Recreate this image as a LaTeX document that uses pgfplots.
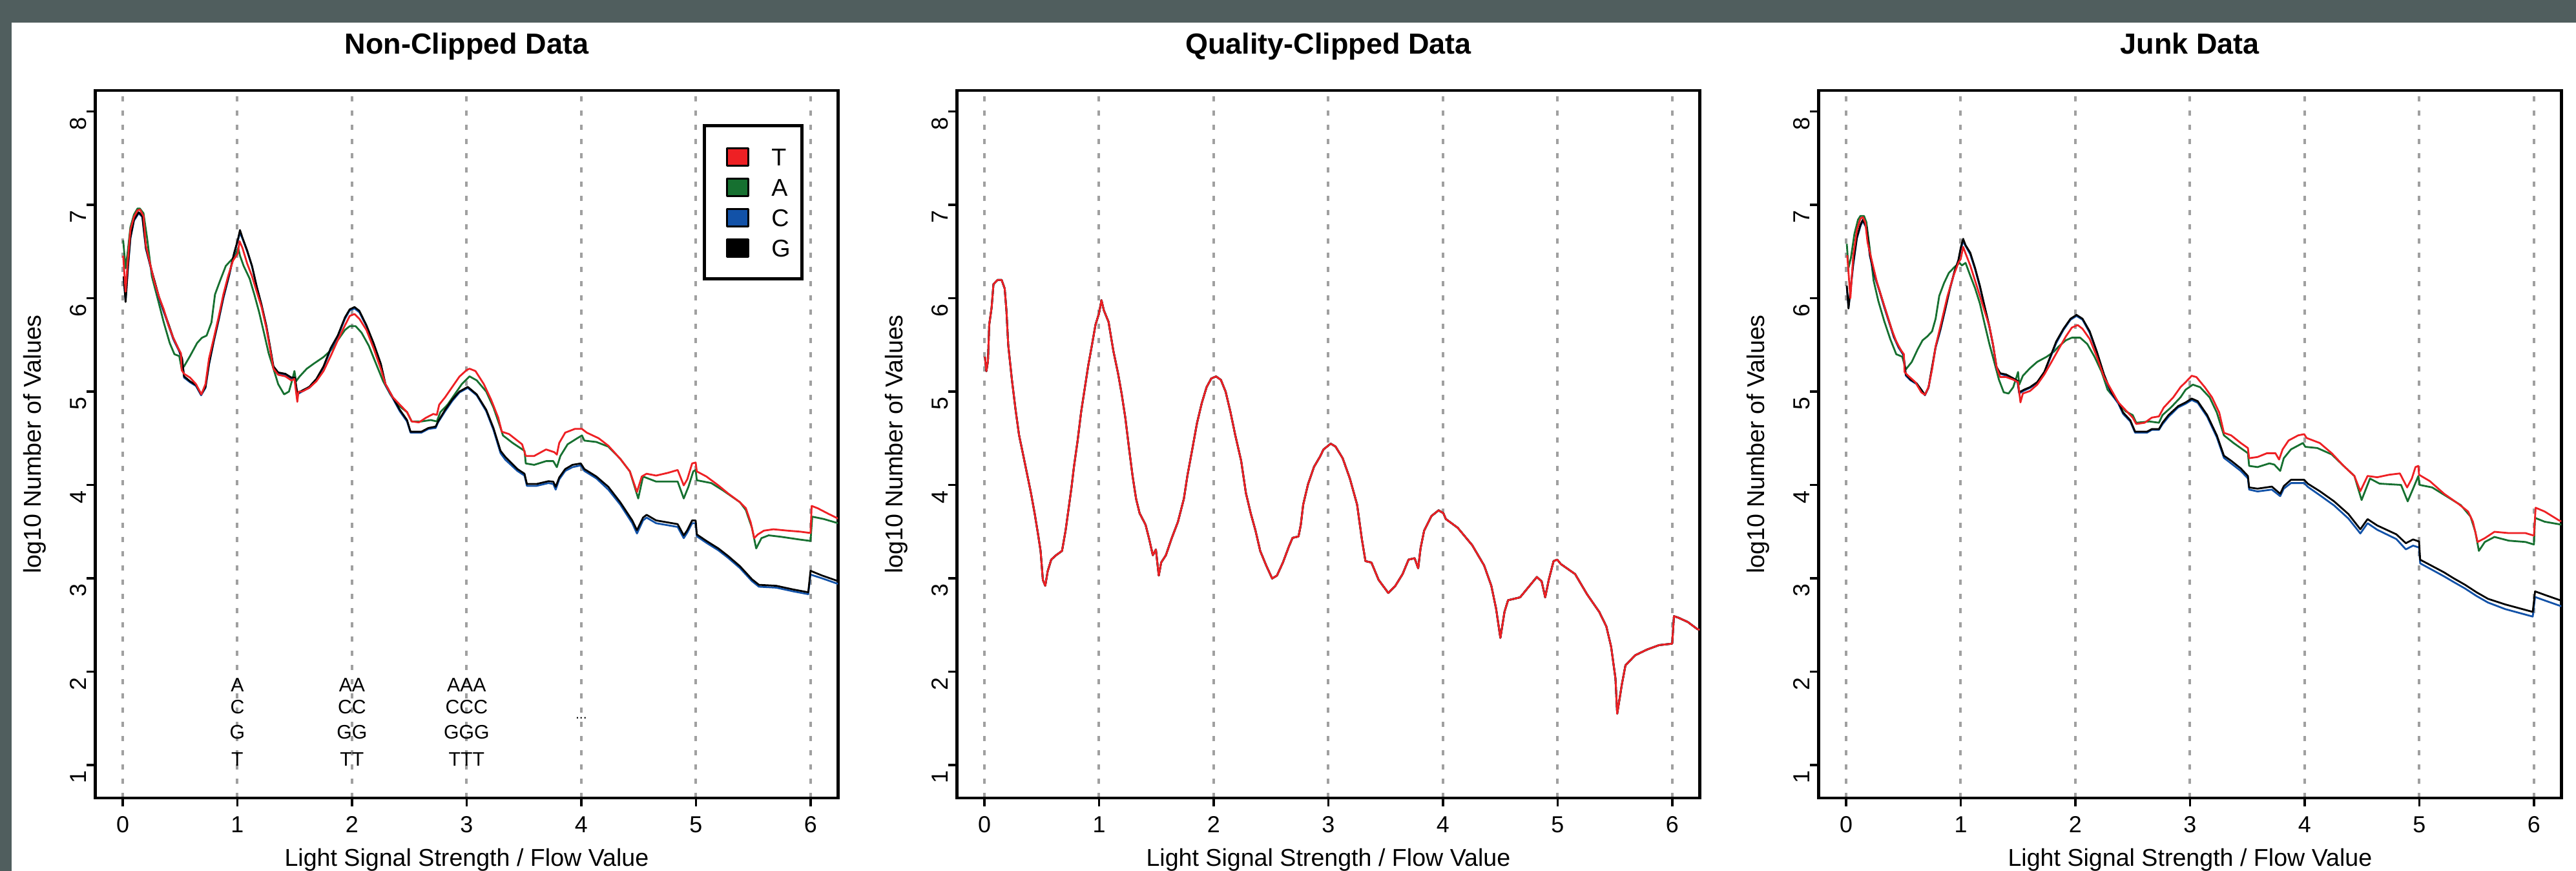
\documentclass[border=0pt]{standalone}
\usepackage{fontspec}
\setmainfont{Liberation Sans}
\usepackage{pgfplots}
\usepackage{pgfplotstable}
\pgfplotsset{compat=1.18}

\definecolor{cT}{RGB}{238,32,36}
\definecolor{cA}{RGB}{22,112,48}
\definecolor{cC}{RGB}{18,82,168}
\definecolor{cG}{RGB}{0,0,0}
\definecolor{gridgray}{RGB}{160,160,160}
\definecolor{bandgray}{RGB}{80,94,94}

\newcommand\ticksize{\fontsize{10.2}{12}\selectfont}
\newcommand\labsize{\fontsize{10.7}{12.8}\selectfont}
\newcommand\titlesize{\fontsize{12.8}{15}\selectfont}
\newcommand\annsize{\fontsize{8.6}{10}\selectfont}

% ---------- Non-clipped reads ----------
\pgfplotstableread{
x y
0.004 6.455
0.025 6.07
0.042 6.37
0.067 6.73
0.098 6.87
0.129 6.94
0.150 6.95
0.181 6.88
0.202 6.565
0.233 6.40
0.275 6.18
0.316 6.015
0.358 5.88
0.399 5.71
0.441 5.575
0.483 5.465
0.508 5.41
0.514 5.23
0.535 5.19
0.587 5.15
0.639 5.08
0.686 4.97
0.722 5.08
0.753 5.355
0.795 5.575
0.836 5.795
0.878 6.04
0.919 6.235
0.961 6.40
1.003 6.48
1.019 6.61
1.044 6.54
1.086 6.37
1.128 6.235
1.169 6.07
1.211 5.905
1.252 5.685
1.284 5.465
1.315 5.245
1.356 5.18
1.419 5.163
1.471 5.12
1.498 5.135
1.523 4.89
1.533 5.00
1.564 5.00
1.627 5.04
1.689 5.11
1.752 5.22
1.814 5.38
1.876 5.55
1.939 5.71
1.980 5.81
2.022 5.83
2.064 5.78
2.126 5.66
2.188 5.465
2.251 5.245
2.292 5.08
2.355 4.94
2.417 4.86
2.480 4.78
2.521 4.68
2.584 4.67
2.646 4.72
2.709 4.76
2.740 4.75
2.761 4.86
2.813 4.94
2.875 5.05
2.937 5.16
3.000 5.23
3.025 5.245
3.077 5.22
3.150 5.08
3.213 4.915
3.276 4.72
3.307 4.57
3.370 4.545
3.484 4.435
3.516 4.31
3.589 4.31
3.693 4.38
3.766 4.35
3.787 4.325
3.808 4.45
3.860 4.56
3.944 4.60
4.006 4.60
4.048 4.56
4.152 4.50
4.236 4.42
4.340 4.28
4.424 4.145
4.486 3.925
4.528 4.09
4.570 4.12
4.653 4.10
4.758 4.13
4.841 4.16
4.894 3.995
4.925 4.06
4.967 4.23
4.998 4.24
5.008 4.145
5.092 4.09
5.196 3.995
5.280 3.91
5.384 3.815
5.436 3.75
5.478 3.60
5.509 3.43
5.541 3.47
5.593 3.51
5.676 3.525
5.802 3.51
5.906 3.50
6.000 3.485
6.010 3.775
6.063 3.75
6.157 3.69
6.240 3.64
}\nclT

\pgfplotstableread{
x y
0.004 6.62
0.025 6.32
0.042 6.48
0.067 6.76
0.098 6.895
0.129 6.96
0.150 6.96
0.181 6.91
0.212 6.65
0.254 6.235
0.306 5.99
0.358 5.74
0.410 5.52
0.451 5.40
0.493 5.38
0.514 5.245
0.535 5.27
0.587 5.38
0.649 5.52
0.690 5.575
0.732 5.60
0.774 5.74
0.805 6.04
0.847 6.18
0.899 6.345
0.940 6.40
0.982 6.455
1.007 6.54
1.023 6.455
1.055 6.345
1.107 6.21
1.148 6.04
1.190 5.85
1.232 5.63
1.273 5.41
1.315 5.245
1.356 5.08
1.408 4.97
1.450 5.00
1.481 5.135
1.498 5.22
1.512 5.11
1.544 5.163
1.606 5.245
1.668 5.30
1.752 5.37
1.814 5.44
1.876 5.55
1.939 5.66
1.980 5.70
2.032 5.70
2.084 5.63
2.147 5.49
2.209 5.30
2.272 5.11
2.334 4.97
2.397 4.86
2.480 4.78
2.521 4.68
2.605 4.68
2.688 4.695
2.740 4.68
2.771 4.78
2.834 4.86
2.896 4.97
2.958 5.08
3.025 5.163
3.088 5.12
3.171 5.00
3.234 4.83
3.296 4.61
3.317 4.53
3.401 4.45
3.505 4.365
3.516 4.23
3.589 4.215
3.693 4.255
3.756 4.255
3.787 4.19
3.818 4.31
3.881 4.435
3.965 4.50
4.006 4.53
4.027 4.475
4.132 4.46
4.236 4.41
4.340 4.28
4.424 4.145
4.497 3.855
4.539 4.09
4.653 4.036
4.841 4.036
4.894 3.855
4.935 3.98
4.977 4.145
4.998 4.16
5.008 4.05
5.134 4.02
5.238 3.94
5.384 3.815
5.436 3.73
5.489 3.54
5.526 3.32
5.572 3.43
5.635 3.46
5.739 3.445
5.906 3.415
6.000 3.40
6.015 3.66
6.115 3.635
6.240 3.59
}\nclA

\pgfplotstableread{
x y
0.008 6.235
0.025 5.96
0.046 6.345
0.067 6.65
0.098 6.84
0.139 6.92
0.171 6.88
0.202 6.54
0.254 6.29
0.316 6.015
0.379 5.795
0.441 5.575
0.493 5.44
0.518 5.355
0.535 5.163
0.587 5.11
0.639 5.07
0.684 4.97
0.722 5.05
0.753 5.30
0.795 5.55
0.836 5.77
0.878 6.015
0.930 6.26
0.971 6.48
1.003 6.62
1.023 6.73
1.044 6.65
1.086 6.51
1.128 6.345
1.169 6.125
1.211 5.93
1.252 5.71
1.284 5.49
1.315 5.27
1.356 5.205
1.419 5.19
1.471 5.15
1.502 5.15
1.523 4.98
1.564 5.01
1.627 5.05
1.689 5.135
1.752 5.27
1.814 5.465
1.876 5.60
1.939 5.795
1.980 5.88
2.022 5.905
2.064 5.865
2.126 5.71
2.188 5.52
2.251 5.30
2.292 5.08
2.355 4.94
2.417 4.805
2.480 4.695
2.511 4.57
2.605 4.57
2.667 4.61
2.730 4.625
2.751 4.68
2.813 4.805
2.875 4.915
2.937 5.00
3.010 5.05
3.088 4.97
3.171 4.805
3.234 4.61
3.296 4.365
3.338 4.30
3.443 4.17
3.505 4.12
3.526 4.01
3.610 4.01
3.714 4.04
3.756 4.035
3.777 3.98
3.808 4.08
3.860 4.17
3.923 4.215
3.996 4.23
4.027 4.17
4.132 4.09
4.236 3.98
4.340 3.815
4.445 3.62
4.486 3.515
4.539 3.65
4.570 3.68
4.653 3.62
4.841 3.58
4.894 3.46
4.925 3.515
4.967 3.62
4.998 3.62
5.008 3.47
5.092 3.40
5.196 3.32
5.280 3.24
5.384 3.13
5.489 2.99
5.550 2.93
5.700 2.92
5.850 2.88
5.980 2.85
6.000 3.08
6.100 3.03
6.240 2.97
}\nclG

\pgfplotstableread{
x y
0.008 6.22
0.025 5.97
0.046 6.33
0.067 6.64
0.098 6.83
0.139 6.91
0.171 6.87
0.202 6.53
0.254 6.28
0.316 6.00
0.379 5.78
0.441 5.56
0.493 5.43
0.518 5.34
0.535 5.15
0.587 5.10
0.639 5.06
0.684 4.96
0.722 5.04
0.753 5.29
0.795 5.54
0.836 5.76
0.878 6.00
0.930 6.25
0.971 6.47
1.003 6.61
1.023 6.70
1.044 6.64
1.086 6.50
1.128 6.34
1.169 6.12
1.211 5.92
1.252 5.70
1.284 5.48
1.315 5.26
1.356 5.19
1.419 5.18
1.471 5.14
1.502 5.14
1.523 4.97
1.564 5.00
1.627 5.04
1.689 5.12
1.752 5.26
1.814 5.45
1.876 5.59
1.939 5.78
1.980 5.87
2.022 5.89
2.064 5.85
2.126 5.70
2.188 5.51
2.251 5.29
2.292 5.07
2.355 4.93
2.417 4.79
2.480 4.68
2.511 4.56
2.605 4.56
2.667 4.60
2.730 4.61
2.751 4.67
2.813 4.79
2.875 4.90
2.937 4.99
3.010 5.04
3.088 4.96
3.171 4.79
3.234 4.59
3.296 4.34
3.338 4.27
3.443 4.15
3.505 4.10
3.526 3.99
3.610 3.99
3.714 4.02
3.756 4.01
3.777 3.95
3.808 4.06
3.860 4.15
3.923 4.19
3.996 4.21
4.027 4.15
4.132 4.07
4.236 3.95
4.340 3.79
4.445 3.59
4.486 3.48
4.539 3.62
4.570 3.65
4.653 3.59
4.841 3.55
4.894 3.43
4.925 3.49
4.967 3.59
4.998 3.59
5.008 3.45
5.092 3.38
5.196 3.30
5.280 3.22
5.384 3.11
5.489 2.97
5.550 2.91
5.700 2.90
5.850 2.86
5.980 2.83
6.000 3.04
6.100 3.00
6.240 2.94
}\nclC

% ---------- Quality-clipped reads (all four bases coincide) ----------
\pgfplotstableread{
x y
0.004 5.373
0.017 5.218
0.031 5.327
0.042 5.715
0.063 5.901
0.079 6.15
0.115 6.196
0.150 6.196
0.177 6.103
0.192 5.87
0.208 5.497
0.240 5.125
0.271 4.814
0.302 4.535
0.344 4.287
0.375 4.10
0.406 3.914
0.438 3.697
0.469 3.464
0.490 3.293
0.510 2.983
0.531 2.92
0.552 3.076
0.583 3.20
0.625 3.247
0.677 3.293
0.708 3.51
0.729 3.697
0.760 3.976
0.781 4.193
0.813 4.473
0.844 4.783
0.875 5.032
0.906 5.28
0.938 5.497
0.969 5.715
1.000 5.839
1.021 5.979
1.042 5.87
1.083 5.746
1.125 5.435
1.167 5.187
1.198 4.97
1.229 4.721
1.260 4.41
1.292 4.10
1.323 3.852
1.354 3.697
1.406 3.573
1.438 3.417
1.469 3.247
1.496 3.308
1.521 3.029
1.542 3.169
1.583 3.247
1.635 3.433
1.688 3.604
1.740 3.852
1.771 4.10
1.813 4.38
1.854 4.659
1.896 4.876
1.938 5.047
1.979 5.14
2.021 5.162
2.063 5.125
2.104 5.000
2.146 4.783
2.188 4.535
2.240 4.256
2.281 3.914
2.323 3.697
2.365 3.51
2.406 3.293
2.458 3.138
2.510 2.998
2.552 3.029
2.604 3.169
2.656 3.34
2.688 3.433
2.740 3.448
2.760 3.573
2.781 3.79
2.823 4.007
2.875 4.193
2.927 4.302
2.958 4.38
3.021 4.442
3.063 4.411
3.125 4.287
3.188 4.069
3.251 3.79
3.293 3.417
3.324 3.184
3.376 3.169
3.439 2.983
3.523 2.843
3.585 2.92
3.648 3.045
3.700 3.20
3.753 3.215
3.784 3.107
3.805 3.324
3.836 3.51
3.899 3.666
3.962 3.728
4.004 3.697
4.025 3.635
4.129 3.541
4.255 3.355
4.359 3.138
4.422 2.92
4.464 2.672
4.501 2.362
4.537 2.641
4.568 2.765
4.673 2.796
4.756 2.92
4.819 3.014
4.861 2.967
4.892 2.796
4.923 2.983
4.965 3.184
4.997 3.20
5.028 3.153
5.153 3.045
5.258 2.827
5.363 2.641
5.425 2.486
5.467 2.268
5.505 1.927
5.520 1.55
5.561 1.865
5.592 2.067
5.676 2.175
5.781 2.237
5.885 2.284
6.000 2.30
6.015 2.594
6.052 2.579
6.136 2.532
6.220 2.455
6.240 2.45
}\qcAll

% ---------- Junk reads ----------
\pgfplotstableread{
x y
0.010 6.46
0.0375 6.00
0.0625 6.46
0.094 6.73
0.125 6.854
0.146 6.867
0.167 6.813
0.1875 6.596
0.229 6.378
0.271 6.161
0.3125 5.998
0.354 5.835
0.396 5.672
0.4375 5.536
0.479 5.441
0.504 5.40
0.510 5.21
0.542 5.169
0.604 5.101
0.656 4.992
0.6875 4.965
0.719 5.047
0.750 5.237
0.781 5.482
0.833 5.753
0.885 6.025
0.9375 6.242
0.979 6.378
1.000 6.42
1.021 6.55
1.042 6.48
1.083 6.351
1.125 6.188
1.167 6.025
1.208 5.862
1.250 5.699
1.281 5.509
1.3125 5.264
1.344 5.155
1.396 5.155
1.458 5.128
1.500 5.101
1.521 4.884
1.542 4.979
1.604 5.006
1.667 5.074
1.729 5.183
1.792 5.318
1.854 5.454
1.917 5.59
1.969 5.685
2.021 5.712
2.0625 5.672
2.125 5.563
2.1875 5.373
2.250 5.155
2.3125 5.02
2.375 4.884
2.4375 4.802
2.500 4.721
2.531 4.653
2.604 4.666
2.667 4.721
2.729 4.734
2.771 4.829
2.854 4.938
2.917 5.047
2.962 5.101
3.015 5.169
3.056 5.155
3.129 5.047
3.192 4.938
3.255 4.775
3.296 4.558
3.359 4.531
3.443 4.449
3.505 4.395
3.516 4.286
3.589 4.299
3.672 4.34
3.745 4.34
3.777 4.272
3.808 4.381
3.860 4.476
3.944 4.531
3.996 4.544
4.017 4.503
4.132 4.449
4.236 4.34
4.340 4.204
4.434 4.096
4.486 3.933
4.549 4.096
4.633 4.082
4.737 4.109
4.831 4.123
4.894 3.973
4.935 4.068
4.967 4.191
4.992 4.204
4.998 4.109
5.092 4.041
5.217 3.905
5.342 3.797
5.426 3.715
5.468 3.606
5.509 3.389
5.572 3.43
5.656 3.498
5.781 3.484
5.927 3.484
6.000 3.457
6.015 3.756
6.094 3.715
6.219 3.62
6.240 3.61
}\jkT

\pgfplotstableread{
x y
0.006 6.582
0.021 6.324
0.042 6.433
0.073 6.691
0.104 6.84
0.125 6.881
0.156 6.881
0.177 6.813
0.208 6.514
0.240 6.188
0.281 5.971
0.333 5.753
0.385 5.563
0.4375 5.40
0.490 5.373
0.521 5.237
0.573 5.318
0.625 5.454
0.667 5.549
0.708 5.59
0.750 5.645
0.781 5.78
0.8125 6.025
0.854 6.161
0.896 6.27
0.948 6.337
0.990 6.378
1.010 6.351
1.042 6.378
1.083 6.242
1.125 6.107
1.167 5.944
1.208 5.726
1.250 5.509
1.292 5.318
1.333 5.128
1.375 4.992
1.417 4.979
1.458 5.047
1.490 5.169
1.500 5.21
1.510 5.074
1.542 5.169
1.604 5.25
1.667 5.318
1.750 5.373
1.8125 5.427
1.854 5.482
1.917 5.549
1.969 5.577
2.042 5.577
2.104 5.509
2.167 5.373
2.229 5.21
2.281 5.02
2.354 4.911
2.4375 4.789
2.500 4.748
2.531 4.666
2.646 4.68
2.729 4.666
2.760 4.748
2.833 4.829
2.917 4.938
2.962 5.02
3.025 5.074
3.088 5.047
3.171 4.938
3.234 4.775
3.296 4.531
3.380 4.449
3.505 4.34
3.516 4.204
3.589 4.191
3.693 4.231
3.735 4.218
3.787 4.15
3.818 4.286
3.881 4.381
3.985 4.449
4.006 4.408
4.111 4.395
4.236 4.327
4.340 4.204
4.434 4.096
4.497 3.838
4.570 4.068
4.653 4.014
4.841 4.00
4.899 3.824
4.946 3.96
4.992 4.096
5.004 4.00
5.113 3.973
5.238 3.878
5.363 3.783
5.447 3.661
5.489 3.498
5.520 3.294
5.572 3.389
5.656 3.443
5.781 3.403
5.927 3.389
6.000 3.362
6.010 3.647
6.094 3.606
6.219 3.579
6.240 3.575
}\jkA

\pgfplotstableread{
x y
0.006 6.134
0.021 5.889
0.042 6.134
0.0625 6.378
0.094 6.65
0.125 6.786
0.146 6.84
0.177 6.759
0.208 6.46
0.250 6.242
0.292 6.079
0.333 5.916
0.375 5.753
0.417 5.59
0.458 5.482
0.500 5.40
0.521 5.183
0.5625 5.128
0.615 5.088
0.656 5.02
0.6875 4.965
0.719 5.047
0.750 5.264
0.781 5.482
0.823 5.672
0.865 5.889
0.906 6.107
0.948 6.297
0.979 6.405
1.000 6.541
1.021 6.636
1.042 6.568
1.083 6.487
1.125 6.324
1.167 6.134
1.208 5.916
1.250 5.699
1.281 5.509
1.3125 5.264
1.344 5.196
1.396 5.183
1.458 5.142
1.496 5.115
1.510 4.992
1.552 5.02
1.604 5.047
1.667 5.101
1.729 5.21
1.781 5.373
1.833 5.536
1.896 5.672
1.958 5.78
2.010 5.821
2.0625 5.78
2.125 5.645
2.1875 5.427
2.250 5.183
2.3125 4.992
2.375 4.884
2.417 4.775
2.479 4.693
2.521 4.571
2.625 4.571
2.667 4.598
2.729 4.598
2.760 4.666
2.8125 4.748
2.896 4.843
2.962 4.884
3.015 4.925
3.067 4.897
3.150 4.748
3.234 4.531
3.296 4.313
3.359 4.259
3.443 4.177
3.505 4.096
3.516 3.973
3.589 3.96
3.714 3.982
3.787 3.905
3.818 3.987
3.881 4.055
3.996 4.055
4.027 4.014
4.132 3.933
4.257 3.824
4.382 3.688
4.486 3.525
4.549 3.634
4.633 3.566
4.800 3.471
4.883 3.376
4.946 3.416
4.998 3.394
5.008 3.199
5.113 3.131
5.217 3.063
5.300 3.00
5.400 2.93
5.500 2.85
5.600 2.78
5.750 2.72
5.900 2.67
5.990 2.64
6.010 2.86
6.100 2.82
6.240 2.76
}\jkG

\pgfplotstableread{
x y
0.006 6.12
0.021 5.90
0.042 6.12
0.0625 6.36
0.094 6.64
0.125 6.77
0.146 6.83
0.177 6.75
0.208 6.45
0.250 6.23
0.292 6.07
0.333 5.90
0.375 5.74
0.417 5.58
0.458 5.47
0.500 5.39
0.521 5.17
0.5625 5.12
0.615 5.08
0.656 5.01
0.6875 4.96
0.719 5.04
0.750 5.25
0.781 5.47
0.823 5.66
0.865 5.88
0.906 6.10
0.948 6.29
0.979 6.40
1.000 6.52
1.021 6.61
1.042 6.56
1.083 6.47
1.125 6.31
1.167 6.12
1.208 5.90
1.250 5.69
1.281 5.50
1.3125 5.25
1.344 5.19
1.396 5.17
1.458 5.13
1.496 5.10
1.510 4.98
1.552 5.01
1.604 5.04
1.667 5.09
1.729 5.20
1.781 5.36
1.833 5.52
1.896 5.66
1.958 5.77
2.010 5.81
2.0625 5.77
2.125 5.63
2.1875 5.42
2.250 5.17
2.3125 4.98
2.375 4.87
2.417 4.76
2.479 4.68
2.521 4.56
2.625 4.56
2.667 4.59
2.729 4.59
2.760 4.65
2.8125 4.73
2.896 4.83
2.962 4.87
3.015 4.91
3.067 4.88
3.150 4.73
3.234 4.51
3.296 4.29
3.359 4.23
3.443 4.15
3.505 4.07
3.516 3.95
3.589 3.93
3.714 3.95
3.787 3.88
3.818 3.96
3.881 4.02
3.996 4.02
4.027 3.98
4.132 3.89
4.257 3.78
4.382 3.64
4.486 3.48
4.549 3.59
4.633 3.52
4.800 3.42
4.883 3.31
4.946 3.35
4.998 3.33
5.008 3.16
5.113 3.09
5.217 3.02
5.300 2.96
5.400 2.89
5.500 2.81
5.600 2.74
5.750 2.67
5.900 2.62
5.990 2.59
6.010 2.80
6.100 2.76
6.240 2.70
}\jkC

\pgfplotsset{
  panel/.style={
    scale only axis, width=115mm, height=109.5mm,
    xmin=-0.24, xmax=6.24, ymin=0.647, ymax=8.225,
    xtick={0,1,2,3,4,5,6}, ytick={1,2,3,4,5,6,7,8},
    xtick pos=bottom, ytick pos=left,
    tick align=outside, major tick length=1.3mm,
    every tick/.style={black, line width=0.35mm},
    axis line style={line width=0.45mm},
    xmajorgrids,
    major x grid style={draw=gridgray, line width=0.4mm, dash pattern=on 0.8mm off 1.4mm},
    /pgf/number format/assume math mode=true,
    tick label style={font=\ticksize},
    xticklabel style={anchor=north, inner sep=0pt, yshift=-1.5mm},
    yticklabel style={rotate=90, anchor=south, inner sep=0pt, xshift=-1.9mm},
    label style={font=\labsize},
    xlabel={Light Signal Strength / Flow Value},
    ylabel={log10 Number of Values},
    xlabel style={at={(axis description cs:0.5,-0.0959)}, anchor=base, inner sep=0pt},
    ylabel style={at={(axis description cs:-0.073,0.5)}, anchor=base, inner sep=0pt},
    title style={at={(axis description cs:0.5,1.032)}, anchor=base, inner sep=0pt, font=\titlesize\bfseries},
    no markers,
    every axis plot/.append style={line width=0.28mm, line join=round},
  },
}

\begin{document}
\begin{tikzpicture}
\useasboundingbox (0,0) rectangle (398.8mm,134.8mm);
\fill[white] (0,0) rectangle (398.8mm,134.8mm);
\fill[bandgray] (0,131.3mm) rectangle (398.8mm,134.8mm);
\fill[bandgray] (0,0) rectangle (1.8mm,131.3mm);

% Non-clipped data, with base legend and homopolymer annotations
\begin{axis}[panel, at={(14.74mm,11.3mm)}, anchor=south west,
    title={Non-Clipped Data},
    legend image code/.code={\draw[#1, draw=black, line width=0.3mm] (0mm,0mm) rectangle (3.3mm,2.7mm);},
    legend cell align=left,
    legend style={at={(0.820,0.950)}, anchor=north west, draw=black, line width=0.5mm,
      outer sep=0pt, inner xsep=3.35mm, inner ysep=3.3mm, row sep=1.7mm, font=\labsize,
      nodes={inner sep=0pt, text height=2.85mm, text depth=0.15mm, text width=1.4mm, align=left, anchor=base west},
      /tikz/every odd column/.append style={column sep=3.45mm}},
  ]
  \addlegendimage{fill=cT}\addlegendentry{T}
  \addlegendimage{fill=cA}\addlegendentry{A}
  \addlegendimage{fill=cC}\addlegendentry{C}
  \addlegendimage{fill=cG}\addlegendentry{G}
  \addplot[cA, forget plot] table {\nclA};
  \addplot[cC, forget plot] table {\nclC};
  \addplot[cG, forget plot] table {\nclG};
  \addplot[cT, forget plot] table {\nclT};
  \begin{scope}[every node/.style={font=\annsize, inner sep=0pt}]
    \node at (axis cs:1,1.86) {A};
    \node at (axis cs:1,1.62) {C};
    \node at (axis cs:1,1.35) {G};
    \node at (axis cs:1,1.06) {T};
    \node at (axis cs:2,1.86) {AA};
    \node at (axis cs:2,1.62) {CC};
    \node at (axis cs:2,1.35) {GG};
    \node at (axis cs:2,1.06) {TT};
    \node at (axis cs:3,1.86) {AAA};
    \node at (axis cs:3,1.62) {CCC};
    \node at (axis cs:3,1.35) {GGG};
    \node at (axis cs:3,1.06) {TTT};
    \node[font=\fontsize{6}{7}\selectfont] at (axis cs:4,1.5) {...};
  \end{scope}
\end{axis}

% Quality-clipped data
\begin{axis}[panel, at={(148.14mm,11.3mm)}, anchor=south west,
    title={Quality-Clipped Data}]
  \addplot[cA] table {\qcAll};
  \addplot[cC] table {\qcAll};
  \addplot[cG] table {\qcAll};
  \addplot[cT] table {\qcAll};
\end{axis}

% Junk data
\begin{axis}[panel, at={(281.54mm,11.3mm)}, anchor=south west,
    title={Junk Data}]
  \addplot[cA] table {\jkA};
  \addplot[cC] table {\jkC};
  \addplot[cG] table {\jkG};
  \addplot[cT] table {\jkT};
\end{axis}
\end{tikzpicture}
\end{document}
